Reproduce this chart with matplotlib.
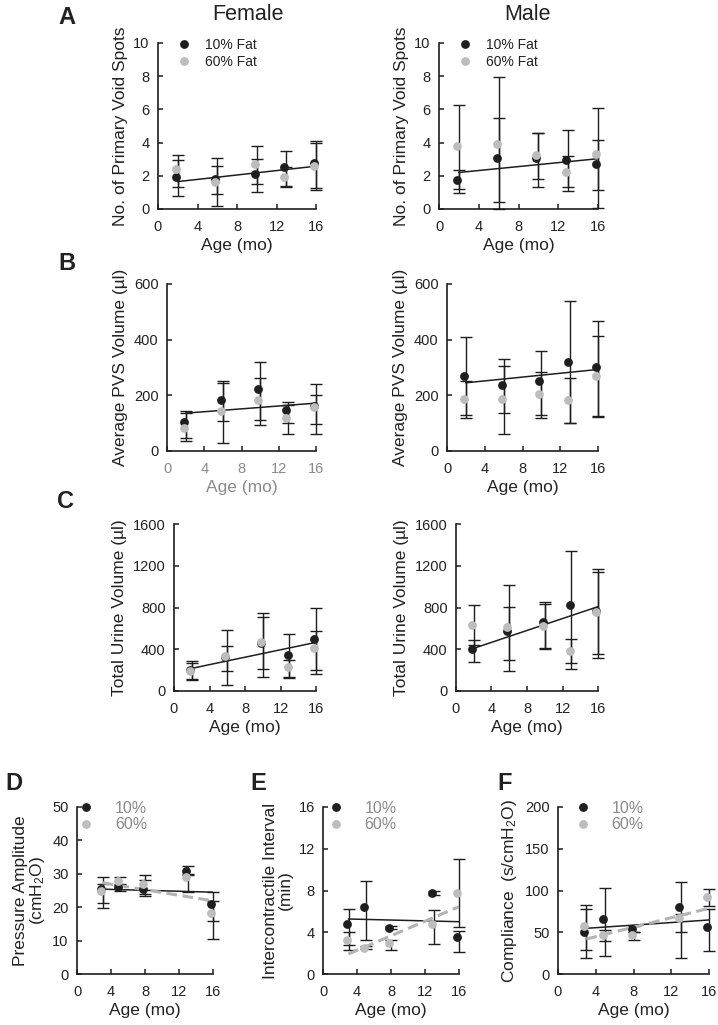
import matplotlib
matplotlib.use("Agg")
import matplotlib.pyplot as plt
import numpy as np

plt.rcParams['font.family'] = ['Liberation Sans', 'DejaVu Sans']
plt.rcParams['mathtext.fontset'] = 'custom'
plt.rcParams['mathtext.rm'] = 'Liberation Sans'
plt.rcParams['mathtext.it'] = 'Liberation Sans:italic'
plt.rcParams['text.color'] = '#222222'
plt.rcParams['axes.labelcolor'] = '#222222'

DARK = '#1e1e1e'
GREY = '#bdbdbd'
GREY_TXT = '#8a8a8a'

# ---- data ----
ages_vs = [2, 6, 10, 13, 16]          # void spot assay ages (mo)
ages_cmg = [3, 5, 8, 13, 16]          # cystometry ages (mo)

# A: number of primary void spots
a_f_lean = [1.95, 1.80, 2.08, 2.50, 2.78]
a_f_lean_lo = [0.80, 0.90, 1.00, 1.40, 1.25]
a_f_lean_hi = [2.95, 2.60, 3.00, 3.50, 4.10]
a_f_hfd = [2.40, 1.64, 2.70, 1.94, 2.62]
a_f_hfd_lo = [1.35, 0.18, 1.50, 1.30, 1.15]
a_f_hfd_hi = [3.25, 3.10, 3.80, 2.54, 3.95]
a_f_fit = [1.65, 2.58]

a_m_lean = [1.74, 3.07, 3.07, 2.97, 2.69]
a_m_lean_lo = [1.20, 0.45, 1.80, 1.30, 1.15]
a_m_lean_hi = [2.35, 5.50, 4.60, 4.73, 4.15]
a_m_hfd = [3.81, 3.91, 3.27, 2.22, 3.29]
a_m_hfd_lo = [0.95, 0.00, 1.35, 1.10, 0.05]
a_m_hfd_hi = [6.27, 7.95, 4.55, 3.20, 6.10]
a_m_fit = [2.20, 3.03]

# B: average PVS volume (ul)
b_f_lean = [104, 184, 224, 146, 160]
b_f_lean_lo = [45, 107, 110, 100, 97]
b_f_lean_hi = [145, 250, 320, 175, 242]
b_f_hfd = [82, 145, 184, 117, 157]
b_f_hfd_lo = [35, 30, 93, 62, 62]
b_f_hfd_hi = [135, 245, 263, 165, 200]
b_f_fit = [136, 172]

b_m_lean = [271, 238, 250, 321, 300]
b_m_lean_lo = [130, 135, 128, 100, 125]
b_m_lean_hi = [408, 332, 358, 540, 468]
b_m_hfd = [188, 188, 205, 182, 271]
b_m_hfd_lo = [120, 60, 120, 102, 122]
b_m_hfd_hi = [250, 307, 283, 262, 413]
b_m_fit = [245, 293]

# C: total urine volume (ul)
c_f_lean = [205, 329, 463, 345, 498]
c_f_lean_lo = [105, 192, 211, 121, 201]
c_f_lean_hi = [284, 434, 712, 543, 792]
c_f_hfd = [192, 335, 470, 233, 409]
c_f_hfd_lo = [115, 60, 131, 130, 163]
c_f_hfd_hi = [270, 584, 744, 297, 572]
c_f_fit = [217, 466]

c_m_lean = [399, 575, 658, 827, 765]
c_m_lean_lo = [280, 297, 402, 272, 351]
c_m_lean_hi = [488, 808, 856, 1341, 1168]
c_m_hfd = [632, 616, 623, 383, 753]
c_m_hfd_lo = [440, 192, 410, 211, 313]
c_m_hfd_hi = [824, 1015, 833, 498, 1137]
c_m_fit = [409, 808]

# D: pressure amplitude (cmH2O)
d_lean = [25.5, 25.9, 25.4, 30.8, 21.0]
d_lean_lo = [21.3, 25.0, 23.9, 29.5, 16.0]
d_lean_hi = [29.1, 26.8, 29.6, 32.3, 24.6]
d_hfd = [24.9, 27.9, 26.9, 29.1, 18.2]
d_hfd_lo = [19.9, 26.5, 23.4, 24.6, 10.5]
d_hfd_hi = [27.0, 29.0, 28.0, 30.0, 22.0]
d_fit_lean = [25.4, 24.5]
d_fit_hfd = [27.3, 21.9]

# E: intercontractile interval (min)
e_lean = [4.76, 6.45, 4.44, 7.79, 3.58]
e_lean_lo = [2.80, 3.26, 4.30, 7.60, 2.14]
e_lean_hi = [6.20, 8.94, 4.60, 8.00, 4.10]
e_hfd = [3.26, 2.52, 3.00, 4.79, 7.79]
e_hfd_lo = [2.30, 2.35, 2.30, 2.87, 4.53]
e_hfd_hi = [4.00, 2.70, 3.26, 6.13, 11.0]
e_fit_lean = [5.27, 5.01]
e_fit_hfd = [1.92, 6.45]

# F: compliance (s/cmH2O)
f_lean = [49.9, 65.5, 53.9, 79.9, 55.9]
f_lean_lo = [19.5, 21.9, 50.0, 50.0, 27.9]
f_lean_hi = [82.6, 102.6, 57.0, 109.8, 78.0]
f_hfd = [57.9, 46.7, 46.7, 67.4, 91.8]
f_hfd_lo = [28.7, 40.0, 40.7, 19.5, 82.0]
f_hfd_hi = [77.5, 53.0, 50.0, 72.0, 101.4]
f_fit_lean = [54.7, 64.7]
f_fit_hfd = [41.9, 78.7]


def panel(ax, ages, lean, lean_lo, lean_hi, hfd, hfd_lo, hfd_hi,
          ymax, ystep, ylabel, fit_lean, fit_hfd=None, shift=0.2):
    x = np.array(ages, dtype=float)
    xp = x - shift
    for m, lo, hi in [(lean, lean_lo, lean_hi), (hfd, hfd_lo, hfd_hi)]:
        m = np.array(m); lo = np.array(lo); hi = np.array(hi)
        ax.errorbar(x, m, yerr=[m - lo, hi - m], fmt='none', ecolor=DARK,
                    elinewidth=1.0, capsize=4, capthick=1.0, zorder=2, clip_on=False)
    ax.plot([x[0], x[-1]], fit_lean, color=DARK, lw=1.1, zorder=2.5)
    if fit_hfd is not None:
        ax.plot([x[0], x[-1]], fit_hfd, color='#b3b3b3', lw=2.2,
                dashes=(3.5, 1.8), zorder=2.6)
    l1, = ax.plot(xp, lean, 'o', color=DARK, ms=5.3, zorder=3, clip_on=False)
    l2, = ax.plot(xp, hfd, 'o', color=GREY, ms=5.3, zorder=3.1, clip_on=False)
    ax.set_xlim(0, 16)
    ax.set_ylim(0, ymax)
    ax.set_xticks([0, 4, 8, 12, 16])
    ax.set_yticks(np.arange(0, ymax + 1e-9, ystep))
    for s in ['top', 'right']:
        ax.spines[s].set_visible(False)
    for s in ['left', 'bottom']:
        ax.spines[s].set_linewidth(1.2)
        ax.spines[s].set_color(DARK)
    ax.tick_params(direction='in', length=3.5, width=1.1, color=DARK,
                   labelsize=10.5, labelcolor='#222222')
    ax.tick_params(axis='x', pad=8)
    ax.tick_params(axis='y', pad=6)
    ax.set_xlabel('Age (mo)', fontsize=12.5, labelpad=3)
    ax.set_ylabel(ylabel, fontsize=12.5, labelpad=4)
    return l1, l2


fig = plt.figure(figsize=(7.18, 10.25), dpi=100)
W, H = 718.0, 1025.0


def box(left, right, top, bottom):
    return [left / W, 1 - bottom / H, (right - left) / W, (bottom - top) / H]


axA1 = fig.add_axes(box(158, 316, 43, 209))
axA2 = fig.add_axes(box(439, 598, 43, 209))
axB1 = fig.add_axes(box(167, 316, 284, 451))
axB2 = fig.add_axes(box(447, 598, 284, 451))
axC1 = fig.add_axes(box(174, 316, 524, 691))
axC2 = fig.add_axes(box(456, 598, 524, 691))
axD = fig.add_axes(box(77, 213, 807, 974))
axE = fig.add_axes(box(323, 459, 807, 974))
axF = fig.add_axes(box(558, 709, 807, 974))

for ax, data, fit in [
        (axA1, (a_f_lean, a_f_lean_lo, a_f_lean_hi, a_f_hfd, a_f_hfd_lo, a_f_hfd_hi), a_f_fit),
        (axA2, (a_m_lean, a_m_lean_lo, a_m_lean_hi, a_m_hfd, a_m_hfd_lo, a_m_hfd_hi), a_m_fit)]:
    h = panel(ax, ages_vs, *data, 10, 2, 'No. of Primary Void Spots', fit)
    ax.legend(h, ['10% Fat', '60% Fat'], loc='upper left', bbox_to_anchor=(0.12, 1.033),
              frameon=False, fontsize=10, handlelength=1.0, handletextpad=1.0,
              labelspacing=0.22, borderaxespad=0, borderpad=0)

panel(axB1, ages_vs, b_f_lean, b_f_lean_lo, b_f_lean_hi, b_f_hfd, b_f_hfd_lo, b_f_hfd_hi,
      600, 200, 'Average PVS Volume (µl)', b_f_fit)
axB1.tick_params(axis='x', labelcolor=GREY_TXT)
axB1.xaxis.label.set_color(GREY_TXT)
panel(axB2, ages_vs, b_m_lean, b_m_lean_lo, b_m_lean_hi, b_m_hfd, b_m_hfd_lo, b_m_hfd_hi,
      600, 200, 'Average PVS Volume (µl)', b_m_fit)

panel(axC1, ages_vs, c_f_lean, c_f_lean_lo, c_f_lean_hi, c_f_hfd, c_f_hfd_lo, c_f_hfd_hi,
      1600, 400, 'Total Urine Volume (µl)', c_f_fit)
panel(axC2, ages_vs, c_m_lean, c_m_lean_lo, c_m_lean_hi, c_m_hfd, c_m_hfd_lo, c_m_hfd_hi,
      1600, 400, 'Total Urine Volume (µl)', c_m_fit)

for ax, args, lab, fits, legx in [
        (axD, (d_lean, d_lean_lo, d_lean_hi, d_hfd, d_hfd_lo, d_hfd_hi, 50, 10),
         'Pressure Amplitude\n(cmH$_2$O)', (d_fit_lean, d_fit_hfd), 0.01),
        (axE, (e_lean, e_lean_lo, e_lean_hi, e_hfd, e_hfd_lo, e_hfd_hi, 16, 4),
         'Intercontractile Interval\n(min)', (e_fit_lean, e_fit_hfd), 0.035),
        (axF, (f_lean, f_lean_lo, f_lean_hi, f_hfd, f_hfd_lo, f_hfd_hi, 200, 50),
         'Compliance  (s/cmH$_2$O)', (f_fit_lean, f_fit_hfd), 0.11)]:
    h = panel(ax, ages_cmg, *args, lab, fits[0], fits[1])
    ax.yaxis.label.set_linespacing(1.0)
    leg = ax.legend(h, ['10%', '60%'], loc='upper left', bbox_to_anchor=(legx, 1.037),
                    frameon=False, fontsize=11.5, handlelength=1.0, handletextpad=1.3,
                    labelspacing=0.08, borderaxespad=0, borderpad=0)
    for t in leg.get_texts():
        t.set_color(GREY_TXT)

# titles and panel letters
fig.text(248 / W, 1 - 14 / H, 'Female', fontsize=15.5, ha='center', va='center')
fig.text(528 / W, 1 - 14 / H, 'Male', fontsize=15.5, ha='center', va='center')
for letter, px, py in [('A', 67, 18), ('B', 67, 264), ('C', 66, 502),
                       ('D', 14, 783), ('E', 258, 783), ('F', 505, 784)]:
    fig.text(px / W, 1 - py / H, letter, fontsize=17, fontweight='bold',
             ha='center', va='center')

fig.savefig('out.png', dpi=100)
